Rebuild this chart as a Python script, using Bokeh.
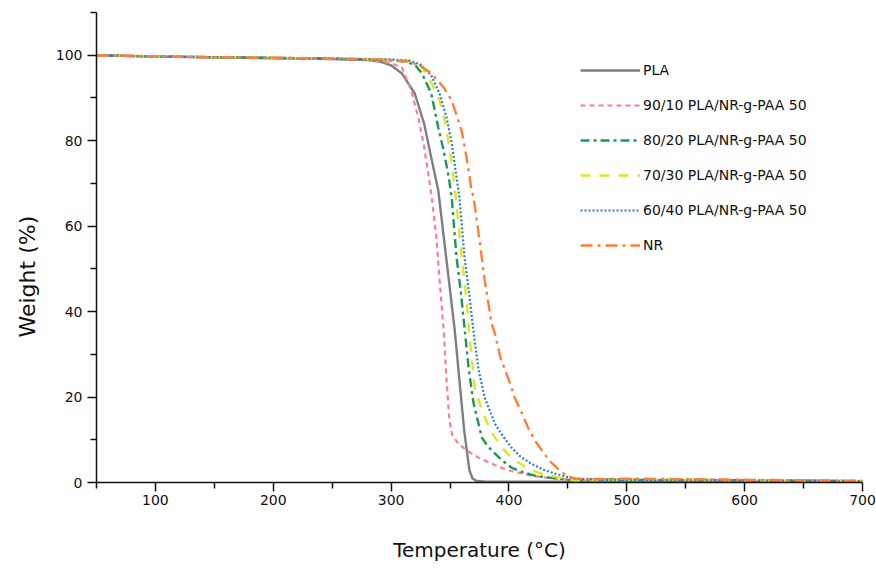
from bokeh.plotting import figure
from bokeh.models import FixedTicker, Range1d, Title
from bokeh.embed import file_html
from bokeh.resources import INLINE

# ---- data ----
pla_x = [50, 100, 200, 250, 280, 292, 300, 309, 320, 328, 334, 340, 345, 350, 354, 358, 362, 366.5, 369, 372, 380, 450, 550, 700]
pla_y = [100, 99.7, 99.3, 99.1, 98.9, 98.4, 97.6, 95.8, 91.1, 84, 76.1, 68.4, 56.7, 45, 35.6, 23.9, 12.2, 2.8, 1.0, 0.4, 0.2, 0.2, 0.2, 0.2]

p90_x = [50, 100, 200, 250, 280, 292, 300, 309, 317, 323, 327.5, 332, 334.5, 338.5, 341.5, 344.5, 347, 349.5, 352, 357, 362, 368, 375, 383, 391, 400, 410, 419, 429, 439, 450, 480, 520, 560, 600, 650, 700]
p90_y = [100, 99.7, 99.3, 99.1, 98.9, 98.6, 98.1, 97.2, 91.8, 85.5, 79.4, 71.4, 66.7, 57, 46, 36, 24, 14.5, 11, 9.1, 8, 6.8, 5.7, 4.7, 3.7, 2.8, 2.2, 1.6, 1.2, 0.9, 0.7, 0.8, 0.7, 0.6, 0.6, 0.5, 0.4]

p80_x = [50, 100, 200, 250, 280, 300, 312, 320, 326, 334, 340, 344.5, 349, 351.5, 355.5, 359, 362.5, 366, 370, 377, 382, 388, 395, 402, 412, 422, 432, 442, 455, 480, 520, 560, 600, 650, 700]
p80_y = [100, 99.7, 99.4, 99.2, 99.0, 98.8, 98.5, 97.8, 95.8, 91.1, 83.1, 77.8, 71.4, 66.3, 52.7, 45, 35.6, 26.2, 18.5, 10.5, 8.5, 6.8, 5, 3.5, 2.4, 1.6, 1.2, 0.9, 0.5, 0.7, 0.6, 0.6, 0.5, 0.4, 0.3]

p70_x = [50, 100, 200, 250, 280, 300, 315, 325, 332, 341, 345.5, 349, 351.5, 354, 355.5, 360, 364, 366.6, 371, 377, 385, 394, 401, 408, 416, 425, 433, 442, 455, 480, 520, 560, 600, 650, 700]
p70_y = [100, 99.7, 99.4, 99.2, 99.1, 98.9, 98.6, 97.5, 94.8, 89.5, 84.8, 79.4, 74.7, 69.1, 65.3, 52.7, 42.6, 34, 22.2, 16.9, 11.8, 8.2, 6.2, 4.7, 3.4, 2.3, 1.7, 1.2, 0.5, 0.6, 0.7, 0.6, 0.5, 0.4, 0.3]

p60_x = [50, 100, 200, 250, 280, 300, 315, 325, 334, 341, 347, 351.5, 355.5, 358, 362.3, 366.6, 370.5, 374.3, 379.4, 388, 395, 402, 410, 419, 429, 439, 448, 456, 480, 520, 560, 600, 650, 700]
p60_y = [100, 99.7, 99.4, 99.2, 99.1, 99.0, 98.8, 97.8, 95.3, 91.1, 85.5, 79.4, 71.4, 66.7, 52.7, 43.3, 34, 26.2, 19.9, 13.8, 10.8, 8.2, 6, 4.4, 3, 2.1, 1.4, 0.9, 0.6, 0.6, 0.5, 0.5, 0.4, 0.3]

nr_x = [50, 100, 200, 250, 280, 300, 315, 325, 334, 344.5, 351.3, 359.8, 364, 368.3, 370, 375, 379.4, 385.3, 388, 393, 400, 405, 411, 416, 422, 428, 434, 440, 445, 451, 456, 470, 500, 540, 580, 620, 660, 700]
nr_y = [100, 99.7, 99.4, 99.2, 99.1, 98.9, 98.5, 97.5, 95.8, 92.5, 89.5, 82.4, 76.1, 68.4, 66.7, 56.7, 47.3, 37.2, 34.9, 29, 23.9, 19.8, 16.2, 13, 9.8, 7.5, 5.2, 3.6, 2.3, 1.4, 0.9, 0.8, 0.9, 0.8, 0.7, 0.6, 0.5, 0.4]

series_names = ["PLA", "90/10 PLA/NR-g-PAA 50", "80/20 PLA/NR-g-PAA 50",
                "70/30 PLA/NR-g-PAA 50", "60/40 PLA/NR-g-PAA 50", "NR"]
x_ticks = [100, 200, 300, 400, 500, 600, 700]
x_minor = [50, 150, 250, 350, 450, 550, 650]
y_ticks = [0, 20, 40, 60, 80, 100]
y_minor = [10, 30, 50, 70, 90, 110]

FONT = "DejaVu Sans"

p = figure(width=876, height=568, output_backend="svg", toolbar_location=None,
           x_range=Range1d(50, 700), y_range=Range1d(0, 110),
           min_border_left=96, min_border_right=14, min_border_top=12, min_border_bottom=86)
p.outline_line_color = None
p.xgrid.visible = False
p.ygrid.visible = False
p.background_fill_color = "white"
p.border_fill_color = "white"

styles = [
    dict(color="#7f7f7f", dash="solid", width=2.4),
    dict(color="#ff7f86", dash="5 4", width=2.2),
    dict(color="#1a9a50", dash="9 4 3 4", width=2.4),
    dict(color="#e3e320", dash="10 9", width=2.4),
    dict(color="#2a7fd0", dash="2 2", width=2.2),
    dict(color="#ff7f3a", dash="12 5 3 5", width=2.4),
]
xs = [pla_x, p90_x, p80_x, p70_x, p60_x, nr_x]
ys = [pla_y, p90_y, p80_y, p70_y, p60_y, nr_y]
for name, x, y, st in zip(series_names, xs, ys, styles):
    p.line(x, y, line_color=st["color"], line_dash=st["dash"], line_width=st["width"],
           legend_label=name)

for ax in (p.xaxis[0], p.yaxis[0]):
    ax.axis_line_color = "#111111"
    ax.axis_line_width = 1.5
    ax.major_tick_line_color = "#111111"
    ax.major_tick_line_width = 1.5
    ax.minor_tick_line_color = "#111111"
    ax.minor_tick_line_width = 1.5
    ax.major_tick_in = 0
    ax.major_tick_out = 9
    ax.minor_tick_in = 0
    ax.minor_tick_out = 6
    ax.major_label_text_font = FONT
    ax.major_label_text_font_size = "14px"
    ax.major_label_text_color = "#111111"
    ax.axis_label_text_font = FONT
    ax.axis_label_text_font_size = "20px"
    ax.axis_label_text_font_style = "normal"
    ax.axis_label_text_color = "#111111"

p.xaxis.ticker = FixedTicker(ticks=x_ticks, minor_ticks=x_minor)
p.yaxis.ticker = FixedTicker(ticks=y_ticks, minor_ticks=y_minor)
p.xaxis.axis_label = "Temperature (°C)"
p.xaxis.major_label_standoff = 3
p.yaxis.major_label_standoff = 5
p.xaxis.axis_label_standoff = 30

ytitle = Title(text="Weight (%)", align="left", offset=145, standoff=25,
               text_font=FONT, text_font_size="22px", text_font_style="normal",
               text_color="#111111")
p.add_layout(ytitle, "left")

lg = p.legend[0]
lg.location = (484, 227)
lg.border_line_color = None
lg.background_fill_alpha = 0
lg.padding = 0
lg.margin = 0
lg.glyph_width = 60
lg.glyph_height = 20
lg.label_height = 20
lg.spacing = 15
lg.label_standoff = 3
lg.label_text_font = FONT
lg.label_text_font_size = "14px"
lg.label_text_color = "#111111"

open("out.html", "w").write(file_html(p, INLINE))
